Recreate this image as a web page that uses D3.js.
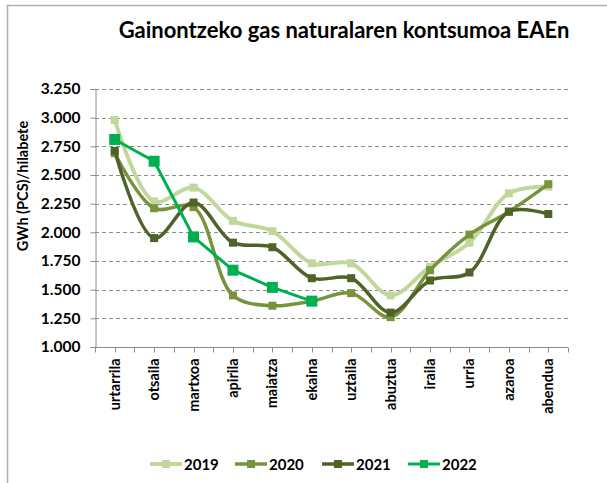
<!DOCTYPE html>
<html>
<head>
<meta charset="utf-8">
<script src="https://d3js.org/d3.v7.min.js"></script>
<style>
  body { margin: 0; background: #fff; }
  text { font-family: Lato, "Open Sans", sans-serif; font-weight: bold; fill: #000; }
</style>
</head>
<body>
<div id="chart"></div>
<script>
var width = 607;
var height = 483;

var months = ["urtarrila", "otsaila", "martxoa", "apirila", "maiatza", "ekaina",
              "uztaila", "abuztua", "iraila", "urria", "azaroa", "abendua"];
var yTicks = [1.0, 1.25, 1.5, 1.75, 2.0, 2.25, 2.5, 2.75, 3.0, 3.25];

var v2019 = [2.98, 2.27, 2.39, 2.10, 2.01, 1.73, 1.73, 1.45, 1.70, 1.91, 2.34, 2.40];
var v2020 = [2.69, 2.21, 2.22, 1.45, 1.36, 1.40, 1.47, 1.26, 1.67, 1.98, 2.18, 2.42];
var v2021 = [2.71, 1.95, 2.26, 1.91, 1.87, 1.60, 1.60, 1.30, 1.58, 1.65, 2.18, 2.16];
var v2022 = [2.81, 2.62, 1.96, 1.67, 1.52, 1.40];

var seriesNames = ["2019", "2020", "2021", "2022"];
var seriesColors = ["#c3d69b", "#77933c", "#4f6228", "#00b050"];

var margin = {left: 95, right: 39, top: 89, bottom: 136};

var svg = d3.select("#chart").append("svg")
            .attr("width", width)
            .attr("height", height);

// outer frame
svg.append("path")
   .attr("d", "M7.5," + height + "V5.5H" + width)
   .attr("fill", "none")
   .attr("stroke", "#b0b0b0")
   .attr("stroke-width", 1.5);

svg.append("text")
   .attr("x", 344)
   .attr("y", 38)
   .attr("text-anchor", "middle")
   .style("font-size", "22px")
   .text("Gainontzeko gas naturalaren kontsumoa EAEn");

var x = d3.scaleBand()
          .domain(months)
          .range([margin.left, width - margin.right]);

var y = d3.scaleLinear()
          .domain([1.0, 3.25])
          .range([height - margin.bottom, margin.top]);

// gridlines
svg.append("g")
   .selectAll("line")
   .data(yTicks.slice(1))
   .enter()
   .append("line")
   .attr("x1", margin.left)
   .attr("x2", width - margin.right)
   .attr("y1", function(d){ return Math.round(y(d)) + 0.5; })
   .attr("y2", function(d){ return Math.round(y(d)) + 0.5; })
   .attr("stroke", "#8c8c8c")
   .attr("stroke-width", 1)
   .attr("stroke-dasharray", "4,3");

// y axis
var yAxis = svg.append("g")
   .attr("transform", "translate(" + (margin.left + 0.5) + ",0)")
   .call(d3.axisLeft(y).tickValues(yTicks).tickSize(5).tickPadding(10)
           .tickFormat(function(d){ return d3.format(".3f")(d); }));
yAxis.select(".domain").attr("stroke", "#8c8c8c");
yAxis.selectAll(".tick line").attr("stroke", "#8c8c8c");
yAxis.selectAll(".tick text")
     .style("font-size", "15.5px")
     .attr("fill", "#000");

svg.append("text")
   .attr("transform", "translate(28,186) rotate(-90)")
   .attr("text-anchor", "middle")
   .style("font-size", "14.5px")
   .text("GWh (PCS)/hilabete");

// x axis
var baseY = Math.round(y(1.0)) + 0.5;
svg.append("line")
   .attr("x1", margin.left)
   .attr("x2", width - margin.right)
   .attr("y1", baseY)
   .attr("y2", baseY)
   .attr("stroke", "#8c8c8c");

var tickPos = [];
months.forEach(function(m, i){
  tickPos.push(x(m));
  tickPos.push(x(m) + x.bandwidth() / 2);
});
tickPos.push(x(months[months.length - 1]) + x.bandwidth());

svg.append("g")
   .selectAll("line")
   .data(tickPos)
   .enter()
   .append("line")
   .attr("x1", function(d){ return Math.round(d) + 0.5; })
   .attr("x2", function(d){ return Math.round(d) + 0.5; })
   .attr("y1", baseY)
   .attr("y2", baseY + 5)
   .attr("stroke", "#8c8c8c");

svg.append("g")
   .selectAll("text")
   .data(months)
   .enter()
   .append("text")
   .attr("transform", function(d){
     return "translate(" + (x(d) + x.bandwidth() / 2 + 5) + "," + (baseY + 11) + ") rotate(-90)";
   })
   .attr("text-anchor", "end")
   .style("font-size", "14.5px")
   .text(function(d){ return d; });

// lines
var allSeries = [v2019, v2020, v2021, v2022];
var cx = function(d, i){ return x(months[i]) + x.bandwidth() / 2; };

var smooth = d3.line()
               .x(cx)
               .y(function(d){ return y(d); })
               .curve(d3.curveCatmullRom.alpha(0.5));
var straight = d3.line()
                 .x(cx)
                 .y(function(d){ return y(d); });

var markerSize = [8, 8, 8, 11];
var lineWidth = [4, 3.5, 3.5, 3];

allSeries.forEach(function(vals, s){
  var g = svg.append("g");
  g.append("path")
   .datum(vals)
   .attr("d", s == 3 ? straight : smooth)
   .attr("fill", "none")
   .attr("stroke", seriesColors[s])
   .attr("stroke-width", lineWidth[s])
   .attr("stroke-linejoin", "round");
  g.selectAll("rect")
   .data(vals)
   .enter()
   .append("rect")
   .attr("x", function(d, i){ return cx(d, i) - markerSize[s] / 2; })
   .attr("y", function(d){ return y(d) - markerSize[s] / 2; })
   .attr("width", markerSize[s])
   .attr("height", markerSize[s])
   .attr("fill", seriesColors[s]);
});

// legend
var legendX = [150, 235, 322, 408];
var legend = svg.append("g")
                .selectAll("g")
                .data(seriesNames)
                .enter()
                .append("g")
                .attr("transform", function(d, i){ return "translate(" + legendX[i] + ",464)"; });
legend.append("line")
      .attr("x1", 0).attr("x2", 32)
      .attr("y1", 0).attr("y2", 0)
      .attr("stroke", function(d, i){ return seriesColors[i]; })
      .attr("stroke-width", function(d, i){ return lineWidth[i]; });
legend.append("rect")
      .attr("x", 12).attr("y", -4)
      .attr("width", 8).attr("height", 8)
      .attr("fill", function(d, i){ return seriesColors[i]; });
legend.append("text")
      .attr("x", 34)
      .attr("y", 5.5)
      .style("font-size", "15px")
      .text(function(d){ return d; });
</script>
</body>
</html>
